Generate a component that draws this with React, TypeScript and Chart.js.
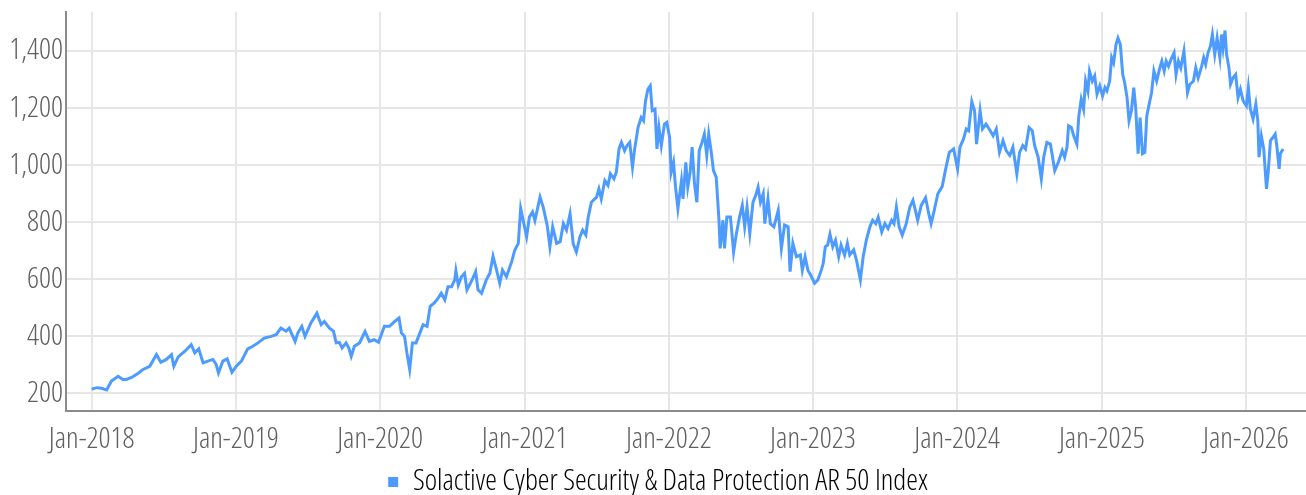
import React, { useEffect, useRef } from "react";
import { Chart, registerables } from "chart.js";

Chart.register(...registerables);

const seriesLabel = "Solactive Cyber Security & Data Protection AR 50 Index";

const dates = [
  "2018-01-01","2018-01-14","2018-01-26","2018-02-08","2018-02-20","2018-03-09","2018-03-21","2018-03-30","2018-04-12","2018-04-28",
  "2018-05-11","2018-05-28","2018-06-14","2018-06-25","2018-07-09","2018-07-22","2018-07-28","2018-08-08","2018-08-25","2018-09-10",
  "2018-09-19","2018-09-29","2018-10-10","2018-10-22","2018-11-04","2018-11-12","2018-11-18","2018-11-29","2018-12-10","2018-12-22",
  "2019-01-02","2019-01-15","2019-01-31","2019-02-13","2019-02-26","2019-03-14","2019-03-31","2019-04-13","2019-04-25","2019-05-08",
  "2019-05-16","2019-05-31","2019-06-07","2019-06-17","2019-06-25","2019-07-10","2019-07-25","2019-08-05","2019-08-13","2019-08-26",
  "2019-09-05","2019-09-12","2019-09-20","2019-09-27","2019-10-07","2019-10-14","2019-10-20","2019-10-28","2019-11-10","2019-11-24",
  "2019-12-05","2019-12-17","2019-12-28",
  "2020-01-12","2020-01-25","2020-02-07","2020-02-18","2020-02-24","2020-03-03","2020-03-09","2020-03-16","2020-03-23","2020-04-01",
  "2020-04-11","2020-04-19","2020-04-29","2020-05-07","2020-05-18","2020-05-27","2020-06-04","2020-06-13","2020-06-21","2020-06-30",
  "2020-07-08","2020-07-11","2020-07-17","2020-07-25","2020-08-02","2020-08-08","2020-08-19","2020-08-30","2020-09-05","2020-09-14",
  "2020-09-26","2020-10-05","2020-10-13","2020-10-22","2020-10-30","2020-11-06","2020-11-16","2020-11-29","2020-12-07","2020-12-16",
  "2020-12-22","2020-12-30",
  "2021-01-06","2021-01-13","2021-01-21","2021-01-27","2021-02-09","2021-02-17","2021-02-27","2021-03-06","2021-03-13","2021-03-23",
  "2021-04-01","2021-04-09","2021-04-17","2021-04-26","2021-05-04","2021-05-12","2021-05-21","2021-05-28","2021-06-05","2021-06-11",
  "2021-06-19","2021-07-02","2021-07-08","2021-07-14","2021-07-23","2021-07-31","2021-08-06","2021-08-15","2021-08-21","2021-08-28",
  "2021-09-03","2021-09-11","2021-09-17","2021-09-24","2021-10-01","2021-10-06","2021-10-15","2021-10-23","2021-10-29","2021-11-03",
  "2021-11-09","2021-11-15","2021-11-20","2021-11-27","2021-12-02","2021-12-07","2021-12-13","2021-12-21","2021-12-27",
  "2022-01-03","2022-01-07","2022-01-13","2022-01-18","2022-01-24","2022-02-02","2022-02-06","2022-02-13","2022-02-18","2022-02-24",
  "2022-03-01","2022-03-07","2022-03-13","2022-03-19","2022-03-26","2022-04-01","2022-04-07","2022-04-12","2022-04-18","2022-04-24",
  "2022-05-01","2022-05-08","2022-05-11","2022-05-18","2022-05-22","2022-05-28","2022-06-06","2022-06-14","2022-06-21","2022-06-29",
  "2022-07-06","2022-07-12","2022-07-18","2022-07-25","2022-08-02","2022-08-09","2022-08-15","2022-08-21","2022-08-28","2022-09-01",
  "2022-09-09","2022-09-15","2022-09-24","2022-10-05","2022-10-13","2022-10-21","2022-10-30","2022-11-04","2022-11-11","2022-11-20",
  "2022-11-30","2022-12-05","2022-12-12","2022-12-19","2022-12-26",
  "2023-01-05","2023-01-13","2023-01-22","2023-01-27","2023-02-01","2023-02-07","2023-02-13","2023-02-20","2023-02-27","2023-03-07",
  "2023-03-13","2023-03-22","2023-03-29","2023-04-04","2023-04-14","2023-04-21","2023-05-01","2023-05-08","2023-05-16","2023-05-25",
  "2023-06-01","2023-06-09","2023-06-15","2023-06-24","2023-07-02","2023-07-10","2023-07-19","2023-07-25","2023-07-31","2023-08-07",
  "2023-08-15","2023-08-25","2023-09-03","2023-09-11","2023-09-18","2023-09-23","2023-10-02","2023-10-13","2023-10-21","2023-10-27",
  "2023-11-04","2023-11-13","2023-11-24","2023-12-02","2023-12-12","2023-12-23",
  "2024-01-02","2024-01-08","2024-01-17","2024-01-24","2024-01-30","2024-02-07","2024-02-14","2024-02-19","2024-02-28","2024-03-05",
  "2024-03-14","2024-03-22","2024-04-01","2024-04-09","2024-04-17","2024-04-26","2024-05-04","2024-05-13","2024-05-21","2024-05-31",
  "2024-06-07","2024-06-15","2024-06-22","2024-07-01","2024-07-09","2024-07-15","2024-07-24","2024-08-01","2024-08-07","2024-08-15",
  "2024-08-24","2024-09-04","2024-09-13","2024-09-23","2024-09-29","2024-10-05","2024-10-09","2024-10-16","2024-10-22","2024-10-30",
  "2024-11-04","2024-11-10","2024-11-16","2024-11-21","2024-11-27","2024-12-01","2024-12-08","2024-12-14","2024-12-20","2024-12-27",
  "2025-01-03","2025-01-09","2025-01-14","2025-01-21","2025-01-26","2025-01-31","2025-02-06","2025-02-11","2025-02-17","2025-02-23",
  "2025-02-28","2025-03-06","2025-03-11","2025-03-17","2025-03-23","2025-03-28","2025-04-03","2025-04-08","2025-04-14","2025-04-20",
  "2025-04-25","2025-05-01","2025-05-07","2025-05-13","2025-05-20","2025-05-27","2025-06-02","2025-06-08","2025-06-13","2025-06-19",
  "2025-06-25","2025-07-03","2025-07-08","2025-07-14","2025-07-20","2025-07-28","2025-08-02","2025-08-06","2025-08-12","2025-08-21",
  "2025-08-27","2025-09-02","2025-09-11","2025-09-16","2025-09-21","2025-09-27","2025-10-03","2025-10-08","2025-10-14","2025-10-20",
  "2025-10-27","2025-10-31","2025-11-04","2025-11-09","2025-11-13","2025-11-19","2025-11-23","2025-11-29","2025-12-06","2025-12-12",
  "2025-12-18","2025-12-25",
  "2026-01-02","2026-01-07","2026-01-12","2026-01-19","2026-01-26","2026-01-31","2026-02-03","2026-02-09","2026-02-15","2026-02-22",
  "2026-02-26","2026-03-04","2026-03-10","2026-03-16","2026-03-20","2026-03-26","2026-03-29","2026-04-05"
];

const values = [
  215,220,218,212,243,260,249,249,256,270,
  284,295,336,309,319,336,295,328,348,371,
  342,356,307,313,319,302,272,313,321,274,
  295,313,356,365,377,394,400,406,429,418,
  429,382,412,435,400,447,481,441,452,429,
  418,377,379,359,377,359,330,365,377,417,
  382,388,379,
  435,435,452,464,412,400,342,284,377,377,
  412,441,435,505,518,534,551,528,574,574,
  598,630,580,609,621,563,592,627,563,551,
  598,621,681,632,586,632,609,661,702,726,
  848,795,
  749,818,836,806,888,853,790,714,784,726,
  732,795,772,830,724,696,749,772,755,818,
  870,888,917,882,946,929,970,952,975,1057,
  1080,1051,1068,1080,993,1051,1132,1167,1156,1225,
  1266,1278,1191,1196,1057,1132,1068,1144,1150,
  1097,975,1010,923,848,946,882,1010,923,975,
  1063,935,870,1051,1080,1109,1034,1109,1051,981,
  958,807,708,807,708,818,818,696,760,818,
  859,784,853,760,870,894,923,870,900,795,
  882,795,784,842,708,790,784,627,726,679,
  685,632,679,632,615,
  586,597,632,656,714,720,758,714,737,679,
  720,685,726,685,703,667,598,679,737,784,
  807,795,818,766,795,778,807,795,853,784,
  755,795,853,877,836,807,859,886,830,795,
  842,900,925,981,1045,1057,
  987,1063,1092,1127,1121,1223,1191,1074,1191,1127,
  1144,1127,1103,1127,1045,1086,1051,1034,1063,970,
  1045,1069,1057,1132,1121,1069,1028,952,1028,1080,
  1074,981,1010,1051,1028,1063,1138,1132,1103,1074,
  1173,1231,1196,1295,1260,1330,1295,1313,1249,1278,
  1243,1272,1260,1295,1377,1359,1423,1446,1423,1318,
  1289,1237,1156,1190,1272,1198,1040,1167,1040,1045,
  1173,1214,1254,1330,1295,1336,1365,1330,1365,1347,
  1370,1394,1318,1365,1341,1400,1318,1254,1283,1295,
  1341,1306,1347,1377,1353,1394,1417,1458,1388,1446,
  1377,1458,1411,1472,1388,1341,1284,1306,1318,1237,
  1266,1225,
  1208,1272,1198,1162,1214,1156,1028,1103,1057,917,
  970,1086,1097,1109,1069,987,1040,1057
];

const xTickYears = [2018, 2019, 2020, 2021, 2022, 2023, 2024, 2025, 2026];
const xTickPrefix = "Jan-";
const yTickValues = [200, 400, 600, 800, 1000, 1200, 1400];

const xMinDate = "2017-10-28";
const xMaxDate = "2026-06-02";
const yMin = 140;
const yMax = 1537;

// layout targets (pixels in the 1306x495 canvas)
const CANVAS_W = 1306;
const CANVAS_H = 495;
const PLOT_LEFT = 66;
const PLOT_TOP = 12;
const PLOT_BOTTOM = 410.5;
const LEGEND_CENTER_Y = 482;
const LEGEND_PAD = 8;
const LEGEND_TARGET_WIDTH = 515; // width of the legend text in the reference

const LINE_COLOR = "#4d9bff";
const TEXT_COLOR = "#606060";
const GRID_COLOR = "#e6e6e6";
const AXIS_COLOR = "#8a8a8a";

const FONT_CANDIDATES = [
  { family: "'Liberation Sans Narrow'", weight: "400" },
  { family: "'Open Sans'", weight: "300 condensed" },
  { family: "Roboto", weight: "300 condensed" },
  { family: "'DejaVu Sans Condensed'", weight: "400" },
  { family: "'DejaVu Sans'", weight: "200 condensed" },
  { family: "Roboto", weight: "300" },
];

function pickFont() {
  const ctx = document.createElement("canvas").getContext("2d") as CanvasRenderingContext2D;
  let best = FONT_CANDIDATES[FONT_CANDIDATES.length - 1];
  let bestW = Infinity;
  for (const c of FONT_CANDIDATES) {
    ctx.font = "10px serif";
    ctx.font = `${c.weight} 25px ${c.family}`;
    if (ctx.font.indexOf("25px") < 0) continue;
    const w = ctx.measureText("Jan-2018").width;
    if (w < bestW - 0.5) {
      bestW = w;
      best = c;
    }
  }
  ctx.font = `${best.weight} 25px ${best.family}`;
  const legendW = ctx.measureText(seriesLabel).width;
  const size = Math.min(30, Math.round(((25 * LEGEND_TARGET_WIDTH) / legendW) * 2) / 2);
  return { family: best.family, weight: best.weight, size };
}

export default function App() {
  const canvasRef = useRef<HTMLCanvasElement | null>(null);

  useEffect(() => {
    if (!canvasRef.current) return;
    const f = pickFont();
    const font = { family: f.family, weight: f.weight as any, size: f.size };
    const legendHeight = f.size + LEGEND_PAD + 10;
    const padBottom = CANVAS_H - 10 - f.size / 2 - LEGEND_CENTER_Y;
    const legendTop = CANVAS_H - padBottom - legendHeight;
    const xAxisHeight = legendTop - PLOT_BOTTOM;

    const points = dates.map((d, i) => ({ x: Date.parse(d), y: values[i] }));
    const chart = new Chart(canvasRef.current, {
      type: "line",
      data: {
        datasets: [
          {
            label: seriesLabel,
            data: points,
            borderColor: LINE_COLOR,
            backgroundColor: LINE_COLOR,
            borderWidth: 3,
            pointRadius: 0,
            tension: 0,
          },
        ],
      },
      options: {
        animation: false,
        responsive: false,
        devicePixelRatio: 1,
        layout: { padding: { left: 10, top: PLOT_TOP, right: 0, bottom: padBottom } },
        plugins: {
          tooltip: { enabled: false },
          legend: {
            position: "bottom",
            labels: {
              boxWidth: 10,
              boxHeight: 10,
              padding: LEGEND_PAD,
              color: TEXT_COLOR,
              font,
              generateLabels: () => [
                {
                  text: seriesLabel,
                  fillStyle: LINE_COLOR,
                  strokeStyle: LINE_COLOR,
                  lineWidth: 0,
                  hidden: false,
                  datasetIndex: 0,
                },
              ],
            },
          },
        },
        scales: {
          x: {
            type: "linear",
            min: Date.parse(xMinDate),
            max: Date.parse(xMaxDate),
            afterBuildTicks: (scale: any) => {
              scale.ticks = xTickYears.map((y) => ({ value: Date.UTC(y, 0, 1) }));
            },
            afterFit: (scale: any) => {
              scale.height = xAxisHeight;
              scale.paddingLeft = 0;
              scale.paddingRight = 0;
            },
            ticks: {
              autoSkip: false,
              maxRotation: 0,
              padding: 11,
              color: TEXT_COLOR,
              font,
              callback: (v: any) => xTickPrefix + new Date(Number(v)).getUTCFullYear(),
            },
            grid: { color: GRID_COLOR, lineWidth: 2, drawTicks: false },
            border: { color: AXIS_COLOR, width: 2 },
          },
          y: {
            min: yMin,
            max: yMax,
            afterBuildTicks: (scale: any) => {
              scale.ticks = yTickValues.map((v) => ({ value: v }));
            },
            afterFit: (scale: any) => {
              scale.width = PLOT_LEFT - 10;
              scale.paddingTop = 0;
              scale.paddingBottom = 0;
            },
            ticks: {
              padding: 3,
              color: TEXT_COLOR,
              font,
              callback: (v: any) => Number(v).toLocaleString("en-US"),
            },
            grid: { color: GRID_COLOR, lineWidth: 2, drawTicks: false },
            border: { color: AXIS_COLOR, width: 2 },
          },
        },
      },
    } as any);
    return () => chart.destroy();
  }, []);

  return (
    <div style={{ position: "absolute", left: 0, top: 0, width: CANVAS_W, height: CANVAS_H, background: "#fff" }}>
      <canvas ref={canvasRef} width={CANVAS_W} height={CANVAS_H} style={{ display: "block" }} />
    </div>
  );
}
